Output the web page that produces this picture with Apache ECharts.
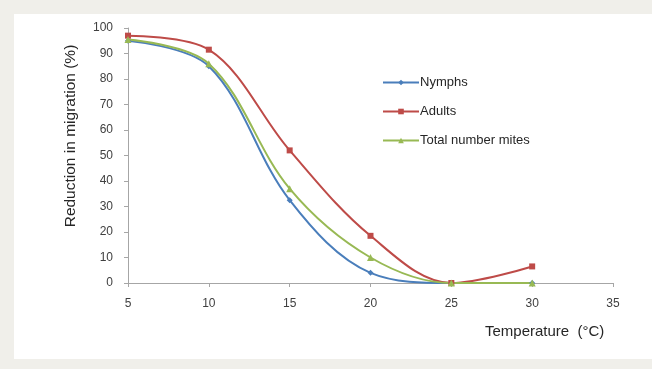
<!DOCTYPE html>
<html>
<head>
<meta charset="utf-8">
<script src="https://cdn.jsdelivr.net/npm/echarts@6/dist/echarts.min.js"></script>
<style>
html,body{margin:0;padding:0;background:#f0efea;}
#panel{position:absolute;left:14px;top:14px;width:638px;height:345px;background:#fff;}
#main{position:absolute;left:0;top:0;width:652px;height:369px;}
</style>
</head>
<body>
<div id="panel"></div>
<div id="main"></div>
<script>
// 温度 (°C)
var temps = [5, 10, 15, 20, 25, 30];
var nymphs = [95, 85, 32.5, 4, 0, 0];
var adults = [97, 91.5, 52, 18.5, 0, 6.5];
var totalMites = [95.5, 86, 37, 10, 0, 0];
var yTicks = [0, 100, 10];
var xTicks = [5, 35, 5];

function pairs(xs, ys){
	var out = [];
	for (var i = 0; i < xs.length; i++) out.push([xs[i], ys[i]]);
	return out;
}

var chart = echarts.init(document.getElementById("main"));
var font = 'Liberation Sans';

option = {
    backgroundColor: 'transparent',
    animation: false,
    textStyle: {fontFamily: font},
    grid: {left: 128, right: 39, top: 28, bottom: 86},
    legend: {
        orient: 'vertical',
        left: 377,
        top: 71,
        itemWidth: 36,
        itemHeight: 7,
        itemGap: 16,
        textStyle: {fontSize: 13, color: '#262626', fontFamily: font, padding: [0, 0, 0, -4]},
        data: ['Nymphs', 'Adults', 'Total number mites']
    },
    xAxis: {
        type: 'value',
        min: xTicks[0],
        max: xTicks[1],
        interval: xTicks[2],
        splitLine: {show: false},
        axisLine: {lineStyle: {color: '#a6a6a6'}},
        axisTick: {show: true, length: 4, lineStyle: {color: '#a6a6a6'}},
        axisLabel: {color: '#404040', fontSize: 12, margin: 15}
    },
    yAxis: {
        type: 'value',
        min: yTicks[0],
        max: yTicks[1],
        interval: yTicks[2],
        splitLine: {show: false},
        axisLine: {show: true, lineStyle: {color: '#a6a6a6'}},
        axisTick: {show: true, length: 4, lineStyle: {color: '#a6a6a6'}},
        axisLabel: {color: '#404040', fontSize: 12, margin: 15}
    },
    graphic: [{
        type: 'text',
        x: 71,
        y: 136,
        rotation: Math.PI / 2,
        style: {text: 'Reduction in migration (%)', fontSize: 15.5, fill: '#262626', fontFamily: font, align: 'center', verticalAlign: 'middle'}
    }, {
        type: 'text',
        left: 485,
        top: 324,
        style: {text: 'Temperature  (°C)', fontSize: 15, fill: '#262626', fontFamily: font}
    }],
    series: [
        {
            name: 'Nymphs',
            type: 'line',
            smooth: 0.35,
            data: pairs(temps, nymphs),
            symbol: 'diamond',
            symbolSize: 6,
            lineStyle: {width: 2, color: '#4a7ebb'},
            itemStyle: {color: '#4a7ebb'}
        },
        {
            name: 'Adults',
            type: 'line',
            smooth: 0.35,
            data: pairs(temps, adults),
            symbol: 'rect',
            symbolSize: 6,
            lineStyle: {width: 2, color: '#be4b48'},
            itemStyle: {color: '#be4b48'}
        },
        {
            name: 'Total number mites',
            type: 'line',
            smooth: 0.35,
            data: pairs(temps, totalMites),
            symbol: 'triangle',
            symbolSize: 7,
            lineStyle: {width: 2, color: '#98b954'},
            itemStyle: {color: '#98b954'}
        }
    ]
};

chart.setOption(option);
</script>
</body>
</html>
